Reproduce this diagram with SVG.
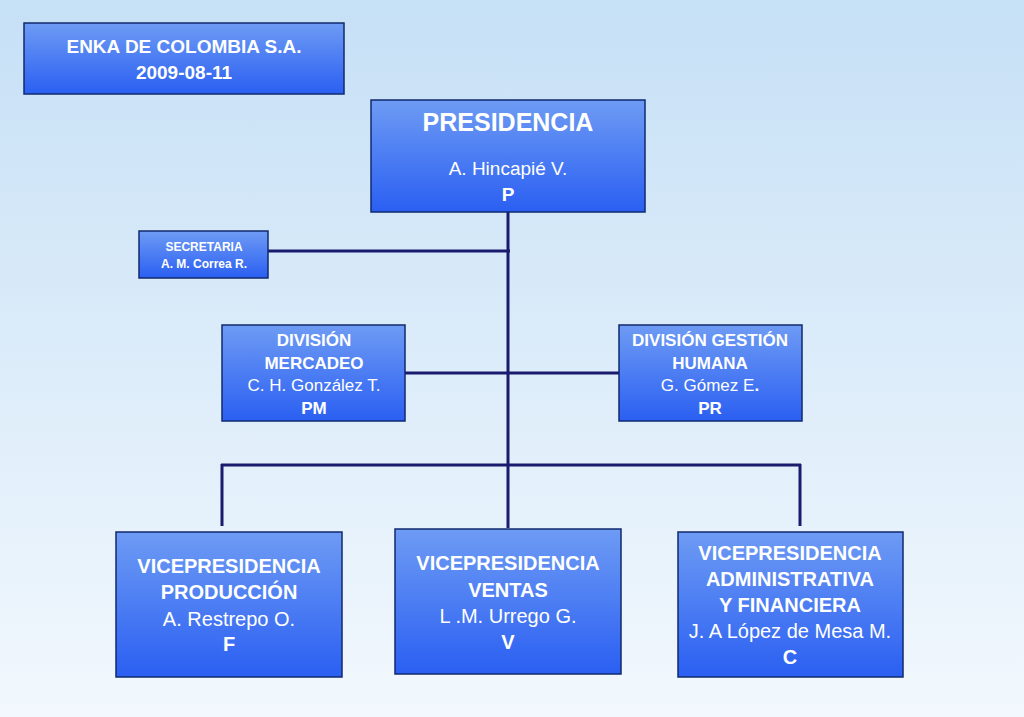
<svg xmlns="http://www.w3.org/2000/svg" width="1024" height="717" viewBox="0 0 1024 717">
<defs>
<linearGradient id="bg" x1="0" y1="0" x2="0" y2="1"><stop offset="0" stop-color="#c6e0f6"/><stop offset="1" stop-color="#f2f8fd"/></linearGradient>
<linearGradient id="bx" x1="0" y1="0" x2="0" y2="1"><stop offset="0" stop-color="#6e9bf4"/><stop offset="1" stop-color="#2a5ff2"/></linearGradient>
<style>
.b{fill:url(#bx);stroke:#102a6e;stroke-width:1.5}
text{font-family:"Liberation Sans",Arial,sans-serif;fill:#fff;text-anchor:middle}
.h{font-weight:bold}
.c line{stroke:#1a1a6e;stroke-width:3}
</style>
</defs>
<rect width="1024" height="717" fill="url(#bg)"/>
<g class="c" id="connectors">
<line x1="508" y1="212" x2="508" y2="528"/>
<line x1="268" y1="251" x2="510" y2="251"/>
<line x1="405" y1="373" x2="620" y2="373"/>
<line x1="221" y1="465" x2="801" y2="465"/>
<line x1="222" y1="464" x2="222" y2="526"/>
<line x1="800" y1="464" x2="800" y2="526"/>
</g>
<g id="title"><rect class="b" x="24" y="23" width="320" height="71"/>
<text class="h" x="184" y="53" font-size="19">ENKA DE COLOMBIA S.A.</text><text class="h" x="184" y="79" font-size="19">2009-08-11</text></g>
<g id="presidencia"><rect class="b" x="371" y="100" width="274" height="112"/>
<text class="h" x="508" y="131" font-size="25">PRESIDENCIA</text><text x="508" y="175" font-size="19">A. Hincapié V.</text><text class="h" x="508" y="201" font-size="19">P</text></g>
<g id="secretaria"><rect class="b" x="139" y="231" width="129" height="47"/>
<text class="h" x="204" y="251" font-size="12">SECRETARIA</text><text class="h" x="204" y="268" font-size="12">A. M. Correa R.</text></g>
<g id="mercadeo"><rect class="b" x="222" y="325" width="183" height="96"/>
<text class="h" x="314" y="346" font-size="17">DIVISIÓN</text><text class="h" x="314" y="369" font-size="17">MERCADEO</text><text x="314" y="391" font-size="17">C. H. González T.</text><text class="h" x="314" y="414" font-size="17">PM</text></g>
<g id="humana"><rect class="b" x="619" y="325" width="183" height="96"/>
<text class="h" x="710" y="346" font-size="17">DIVISIÓN GESTIÓN</text><text class="h" x="710" y="369" font-size="17">HUMANA</text><text x="710" y="391" font-size="17">G. Gómez E<tspan font-weight="bold">.</tspan></text><text class="h" x="710" y="414" font-size="17">PR</text></g>
<g id="produccion"><rect class="b" x="116" y="532" width="226" height="145"/>
<text class="h" x="229" y="573" font-size="20">VICEPRESIDENCIA</text><text class="h" x="229" y="599" font-size="20">PRODUCCIÓN</text><text x="229" y="626" font-size="20">A. Restrepo O.</text><text class="h" x="229" y="651" font-size="20">F</text></g>
<g id="ventas"><rect class="b" x="395" y="529" width="226" height="145"/>
<text class="h" x="508" y="570" font-size="20">VICEPRESIDENCIA</text><text class="h" x="508" y="597" font-size="20">VENTAS</text><text x="508" y="623" font-size="20">L .M. Urrego G.</text><text class="h" x="508" y="649" font-size="20">V</text></g>
<g id="admin"><rect class="b" x="678" y="532" width="225" height="145"/>
<text class="h" x="790" y="560" font-size="20">VICEPRESIDENCIA</text><text class="h" x="790" y="586" font-size="20">ADMINISTRATIVA</text><text class="h" x="790" y="612" font-size="20">Y  FINANCIERA</text><text x="790" y="638" font-size="20">J. A López de Mesa M.</text><text class="h" x="790" y="664" font-size="20">C</text></g>
</svg>
